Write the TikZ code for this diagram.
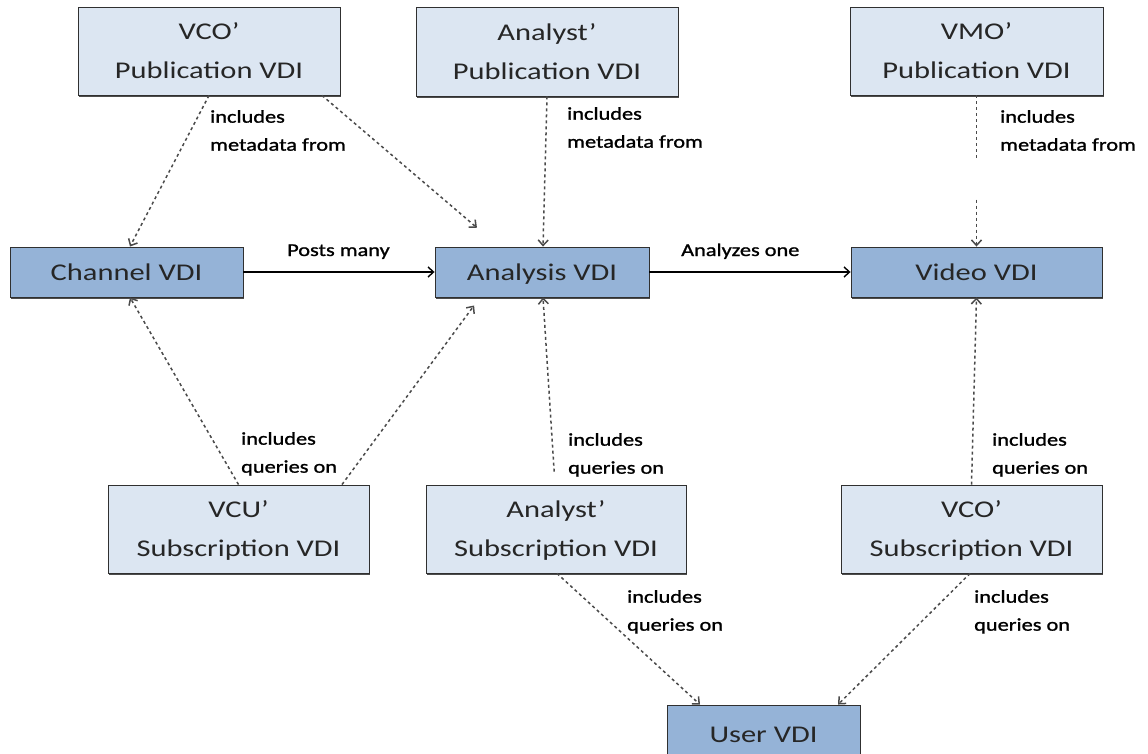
\documentclass[tikz,border=0pt]{standalone}
\usepackage{fontspec}
\setmainfont{Carlito}[FakeStretch=1.27]
\newfontfamily\tagfont{Carlito}[FakeStretch=1.24, FakeBold=1.2]
\usetikzlibrary{arrows.meta,shadows}

\definecolor{boxlight}{HTML}{DCE6F2}
\definecolor{boxdark}{HTML}{95B3D7}
\definecolor{edgeline}{HTML}{303030}
\definecolor{depline}{HTML}{4A4A4A}
\definecolor{ink}{HTML}{262626}

\tikzset{
  vdi/.style={draw=edgeline, line width=0.9pt, inner sep=0pt, align=center,
    text=ink, font=\fontsize{24}{39}\selectfont, text depth=0pt,
    drop shadow={shadow xshift=0.8pt, shadow yshift=-2.2pt, fill=black!70, opacity=1}},
  lightbox/.style={vdi, fill=boxlight},
  darkbox/.style={vdi, fill=boxdark},
  tag/.style={anchor=north west, inner sep=0pt, align=left,
    font=\tagfont\fontsize{18}{28}\selectfont, text=black},
  flowlabel/.style={anchor=base west, inner sep=0pt,
    font=\tagfont\fontsize{18}{28}\selectfont, text=black},
  barb/.style={-{Straight Barb[length=5.5pt,width=10pt]}},
  dep/.style={barb, draw=depline, line width=1.5pt, dash pattern=on 3pt off 3pt},
  flow/.style={barb, draw=black, line width=1.4pt},
}

\begin{document}
\begin{tikzpicture}[x=1pt,y=-1pt]
  \useasboundingbox (0,0) rectangle (1148,754);
  \clip (0,0) rectangle (1148,754);
  \fill[white] (0,0) rectangle (1148,754);

  % publication VDIs
  \node[lightbox, minimum width=262pt, minimum height=88pt] (vcoPub) at (209,51) {VCO’\\Publication VDI};
  \node[lightbox, minimum width=262pt, minimum height=89pt] (anaPub) at (547,51.5) {Analyst’\\Publication VDI};
  \node[lightbox, minimum width=253pt, minimum height=88pt] (vmoPub) at (976.5,51) {VMO’\\Publication VDI};

  % core VDIs
  \node[darkbox, minimum width=233pt, minimum height=50pt] (chan) at (126.5,272) {Channel VDI};
  \node[darkbox, minimum width=214pt, minimum height=50pt] (ana) at (542,272) {Analysis VDI};
  \node[darkbox, minimum width=251pt, minimum height=50pt] (vid) at (976.5,272) {Video VDI};

  % subscription VDIs
  \node[lightbox, minimum width=261pt, minimum height=88pt] (vcuSub) at (238.5,529) {VCU’\\Subscription VDI};
  \node[lightbox, minimum width=260pt, minimum height=88pt] (anaSub) at (556,529) {Analyst’\\Subscription VDI};
  \node[lightbox, minimum width=261pt, minimum height=88pt] (vcoSub) at (971.5,529) {VCO’\\Subscription VDI};

  % user VDI
  \node[darkbox, minimum width=193pt, minimum height=60pt] (user) at (763.5,735) {User VDI};

  % main flow
  \draw[flow] (chan.east) -- (ana.west);
  \draw[flow] (ana.east) -- (vid.west);
  \node[flowlabel] (lposts) at (287,256) {Posts many};
  \node[flowlabel] (lanalyzes) at (681,256) {Analyzes one};

  % metadata dependencies
  \draw[dep] (vcoPub.south) -- ([xshift=3.5pt]chan.north);
  \draw[dep, shorten >=29pt] ([xshift=113pt]vcoPub.south) -- ([xshift=-43pt]ana.north);
  \draw[dep] (anaPub.south) -- ([xshift=1pt]ana.north);
  \coordinate (vmoGapA) at ([yshift=-65pt]vmoPub.south);
  \coordinate (vmoGapB) at ([yshift=47pt]vid.north);
  \draw[dep] (vmoPub.south) -- (vmoGapA) (vmoGapB) -- (vid.north);

  % query dependencies
  \draw[dep] (vcuSub.north) -- ([xshift=3.5pt]chan.south);
  \draw[dep, shorten >=10pt] ([xshift=103.5pt]vcuSub.north) -- ([xshift=-62pt]ana.south);
  \draw[dep, shorten <=13pt] ([xshift=-1pt]anaSub.north) -- ([xshift=1pt]ana.south);
  \draw[dep] (vcoSub.north) -- (vid.south);
  \draw[dep] ([xshift=1pt]anaSub.south) -- ([xshift=-63.5pt]user.north);
  \draw[dep] ([xshift=-1.5pt]vcoSub.south) -- ([xshift=74.5pt]user.north);

  % dependency labels
  \node[tag] (t1) at (210,110) {includes\\metadata from};
  \node[tag] (t2) at (567,107) {includes\\metadata from};
  \node[tag] (t3) at (1000,110) {includes\\metadata from};
  \node[tag] (t4) at (241,432) {includes\\queries on};
  \node[tag] (t5) at (568,433) {includes\\queries on};
  \node[tag] (t6) at (992,433) {includes\\queries on};
  \node[tag] (t7) at (627,590) {includes\\queries on};
  \node[tag] (t8) at (974,590) {includes\\queries on};
\end{tikzpicture}
\end{document}
